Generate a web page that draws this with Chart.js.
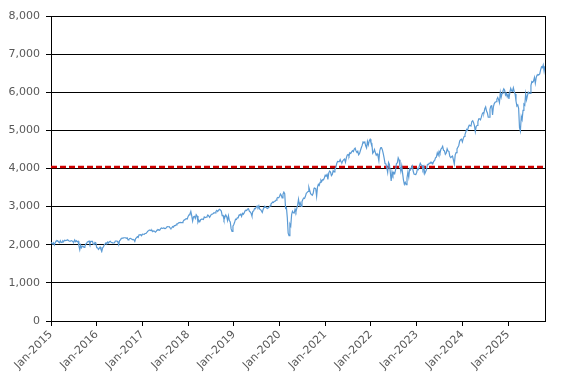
<!DOCTYPE html>
<html>
<head>
<meta charset="utf-8">
<script src="https://cdn.jsdelivr.net/npm/chart.js@4"></script>
<style>
  html, body { margin: 0; padding: 0; background: #fff; }
  canvas { display: block; }
</style>
</head>
<body>
<canvas id="chart" width="572" height="384"></canvas>
<script>
// weekly closes per year (low points kept)
const years = [2015, 2016, 2017, 2018, 2019, 2020, 2021, 2022, 2023, 2024, 2025];
const closes2015 = [2058, 2044, 2019, 2051, 1995, 2055, 2097, 2110, 2104, 2071, 2053, 2108, 2061, 2067, 2102, 2081, 2117, 2108, 2116, 2122, 2126, 2107, 2092, 2094, 2110, 2101, 2077, 2076, 2127, 2079, 2104, 2078, 2092, 1971, 1868, 1989, 1921, 1961, 1958, 1931, 1951, 2014, 2033, 2075, 2079, 2099, 2023, 2089, 2090, 2091, 2012, 2005, 2061, 2044];
const closes2016 = [1922, 1921, 1880, 1907, 1940, 1880, 1829, 1918, 1948, 1999, 2022, 2050, 2035, 2072, 2048, 2082, 2092, 2065, 2057, 2047, 2046, 2052, 2099, 2099, 2096, 2071, 2000, 2103, 2130, 2162, 2175, 2173, 2183, 2184, 2184, 2169, 2180, 2128, 2139, 2165, 2168, 2153, 2133, 2141, 2126, 2085, 2164, 2182, 2213, 2192, 2260, 2259, 2263, 2239];
const closes2017 = [2277, 2275, 2271, 2295, 2297, 2316, 2351, 2367, 2384, 2383, 2373, 2378, 2344, 2363, 2355, 2329, 2349, 2384, 2399, 2390, 2381, 2416, 2439, 2432, 2433, 2438, 2423, 2425, 2459, 2473, 2472, 2476, 2441, 2426, 2443, 2477, 2461, 2500, 2502, 2519, 2549, 2553, 2575, 2581, 2587, 2582, 2579, 2602, 2642, 2652, 2675, 2683, 2674];
const closes2018 = [2743, 2786, 2810, 2873, 2762, 2620, 2732, 2747, 2691, 2786, 2752, 2588, 2640, 2604, 2656, 2670, 2670, 2663, 2728, 2713, 2721, 2735, 2780, 2755, 2718, 2760, 2801, 2802, 2819, 2840, 2833, 2875, 2902, 2872, 2905, 2930, 2914, 2885, 2767, 2768, 2659, 2723, 2781, 2736, 2633, 2760, 2633, 2600, 2416, 2351, 2485];
const closes2019 = [2532, 2596, 2671, 2664, 2707, 2707, 2775, 2792, 2803, 2743, 2822, 2800, 2834, 2892, 2907, 2905, 2940, 2945, 2881, 2860, 2826, 2752, 2873, 2887, 2950, 2942, 2990, 3014, 2977, 3025, 2932, 2919, 2889, 2847, 2926, 2978, 3007, 2992, 2962, 2952, 2970, 2986, 3022, 3067, 3093, 3120, 3110, 3141, 3145, 3169, 3221, 3240, 3230];
const closes2020 = [3265, 3329, 3295, 3226, 3327, 3380, 3338, 2954, 2972, 2711, 2305, 2237, 2541, 2489, 2790, 2875, 2837, 2830, 2930, 2864, 2955, 3044, 3193, 3041, 3098, 3009, 3130, 3185, 3225, 3215, 3271, 3351, 3373, 3397, 3508, 3427, 3341, 3319, 3298, 3348, 3477, 3483, 3465, 3270, 3509, 3585, 3557, 3638, 3699, 3663, 3709, 3703, 3756];
const closes2021 = [3824, 3801, 3841, 3714, 3887, 3934, 3907, 3811, 3842, 3943, 3913, 3974, 4020, 4129, 4185, 4180, 4181, 4232, 4173, 4156, 4204, 4230, 4247, 4166, 4281, 4352, 4370, 4327, 4411, 4395, 4436, 4468, 4442, 4509, 4535, 4458, 4433, 4455, 4357, 4391, 4471, 4544, 4605, 4697, 4682, 4698, 4595, 4538, 4712, 4620, 4725, 4766];
const closes2022 = [4677, 4662, 4398, 4431, 4500, 4418, 4348, 4384, 4329, 4204, 4463, 4543, 4545, 4488, 4392, 4271, 4132, 4123, 4023, 3901, 4158, 4108, 3901, 3674, 3911, 3825, 3899, 3863, 3961, 4130, 4145, 4280, 4228, 4057, 3924, 4067, 3873, 3693, 3585, 3639, 3577, 3752, 3901, 3770, 3993, 3965, 4026, 4071, 3934, 3852, 3844, 3839];
const closes2023 = [3895, 3999, 3972, 4070, 4136, 4090, 4079, 3970, 4045, 3861, 3917, 3971, 4109, 4105, 4137, 4133, 4169, 4136, 4124, 4191, 4205, 4282, 4299, 4409, 4348, 4450, 4398, 4505, 4536, 4582, 4478, 4464, 4370, 4405, 4515, 4457, 4450, 4320, 4288, 4308, 4327, 4224, 4117, 4358, 4415, 4514, 4559, 4604, 4719, 4754, 4769];
const closes2024 = [4697, 4783, 4840, 4891, 4958, 5027, 5005, 5089, 5137, 5124, 5117, 5234, 5254, 5204, 5123, 4967, 5100, 5128, 5223, 5304, 5305, 5277, 5347, 5432, 5464, 5460, 5567, 5615, 5505, 5459, 5346, 5344, 5554, 5634, 5648, 5408, 5626, 5703, 5738, 5751, 5815, 5864, 5808, 5728, 5995, 5870, 5969, 6032, 6090, 6051, 5930, 5971, 5882];
const closes2025 = [5942, 5827, 5997, 6101, 6040, 6026, 6115, 6013, 5955, 5770, 5639, 5668, 5581, 5074, 4982, 5363, 5283, 5525, 5687, 5660, 5958, 5802, 5912, 6000, 5977, 5967, 6173, 6279, 6260, 6297, 6389, 6238, 6389, 6450, 6467, 6460, 6482, 6584, 6664, 6644, 6716, 6552, 6690];
const thresholdValue = 4040;
const yTicks = [0, 1000, 2000, 3000, 4000, 5000, 6000, 7000, 8000];

const closesByYear = [closes2015, closes2016, closes2017, closes2018, closes2019, closes2020,
  closes2021, closes2022, closes2023, closes2024, closes2025];

// x in fractional years; full years spread over their own weeks, last one on a 52-week grid
const points = [];
closesByYear.forEach((arr, yi) => {
  const n = yi === closesByYear.length - 1 ? 52 : arr.length;
  arr.forEach((v, i) => points.push({ x: years[yi] + i / n, y: v }));
});
const xMin = years[0];
const xMax = points[points.length - 1].x;

const frame = {
  id: "frame",
  afterDraw(chart) {
    const { ctx, chartArea: a } = chart;
    ctx.save();
    ctx.strokeStyle = "#000";
    ctx.lineWidth = 1;
    ctx.beginPath();
    ctx.moveTo(Math.round(a.right) + 0.5, a.top);
    ctx.lineTo(Math.round(a.right) + 0.5, a.bottom);
    ctx.stroke();
    ctx.restore();
  }
};

const fmt = (v) => String(v).replace(/\B(?=(\d{3})+(?!\d))/g, ",");

new Chart(document.getElementById("chart"), {
  type: "line",
  data: {
    datasets: [
      {
        data: points,
        borderColor: "#5B9BD5",
        borderWidth: 1.2,
        pointRadius: 0,
        tension: 0
      },
      {
        data: [{ x: xMin, y: thresholdValue }, { x: xMax, y: thresholdValue }],
        borderColor: "#D00000",
        borderWidth: 2.5,
        borderDash: [6, 3],
        pointRadius: 0
      }
    ]
  },
  plugins: [frame],
  options: {
    responsive: false,
    animation: false,
    devicePixelRatio: 1,
    layout: { padding: { left: 0, top: 16, right: 27, bottom: 0 } },
    plugins: { legend: { display: false }, tooltip: { enabled: false } },
    scales: {
      x: {
        type: "linear",
        min: xMin,
        max: xMax,
        afterBuildTicks: (scale) => {
          scale.ticks = years.map((y) => ({ value: y }));
        },
        afterFit: (scale) => { scale.height = 63; },
        ticks: {
          autoSkip: false,
          maxRotation: 45,
          minRotation: 45,
          padding: 2,
          color: "#595959",
          font: { family: "DejaVu Sans", size: 11 },
          callback: (v) => "Jan-" + v
        },
        grid: { drawOnChartArea: false, drawTicks: true, tickLength: 5, color: "#000" },
        border: { display: true, color: "#000", width: 1 }
      },
      y: {
        min: 0,
        max: 8000,
        afterBuildTicks: (scale) => {
          scale.ticks = yTicks.map((v) => ({ value: v }));
        },
        afterFit: (scale) => { scale.width = 51; },
        ticks: {
          padding: 6,
          color: "#595959",
          font: { family: "DejaVu Sans", size: 11 },
          callback: (v) => fmt(v)
        },
        grid: { color: "#000", lineWidth: 1, drawTicks: true, tickLength: 5 },
        border: { display: true, color: "#000", width: 1 }
      }
    }
  }
});
</script>
</body>
</html>
